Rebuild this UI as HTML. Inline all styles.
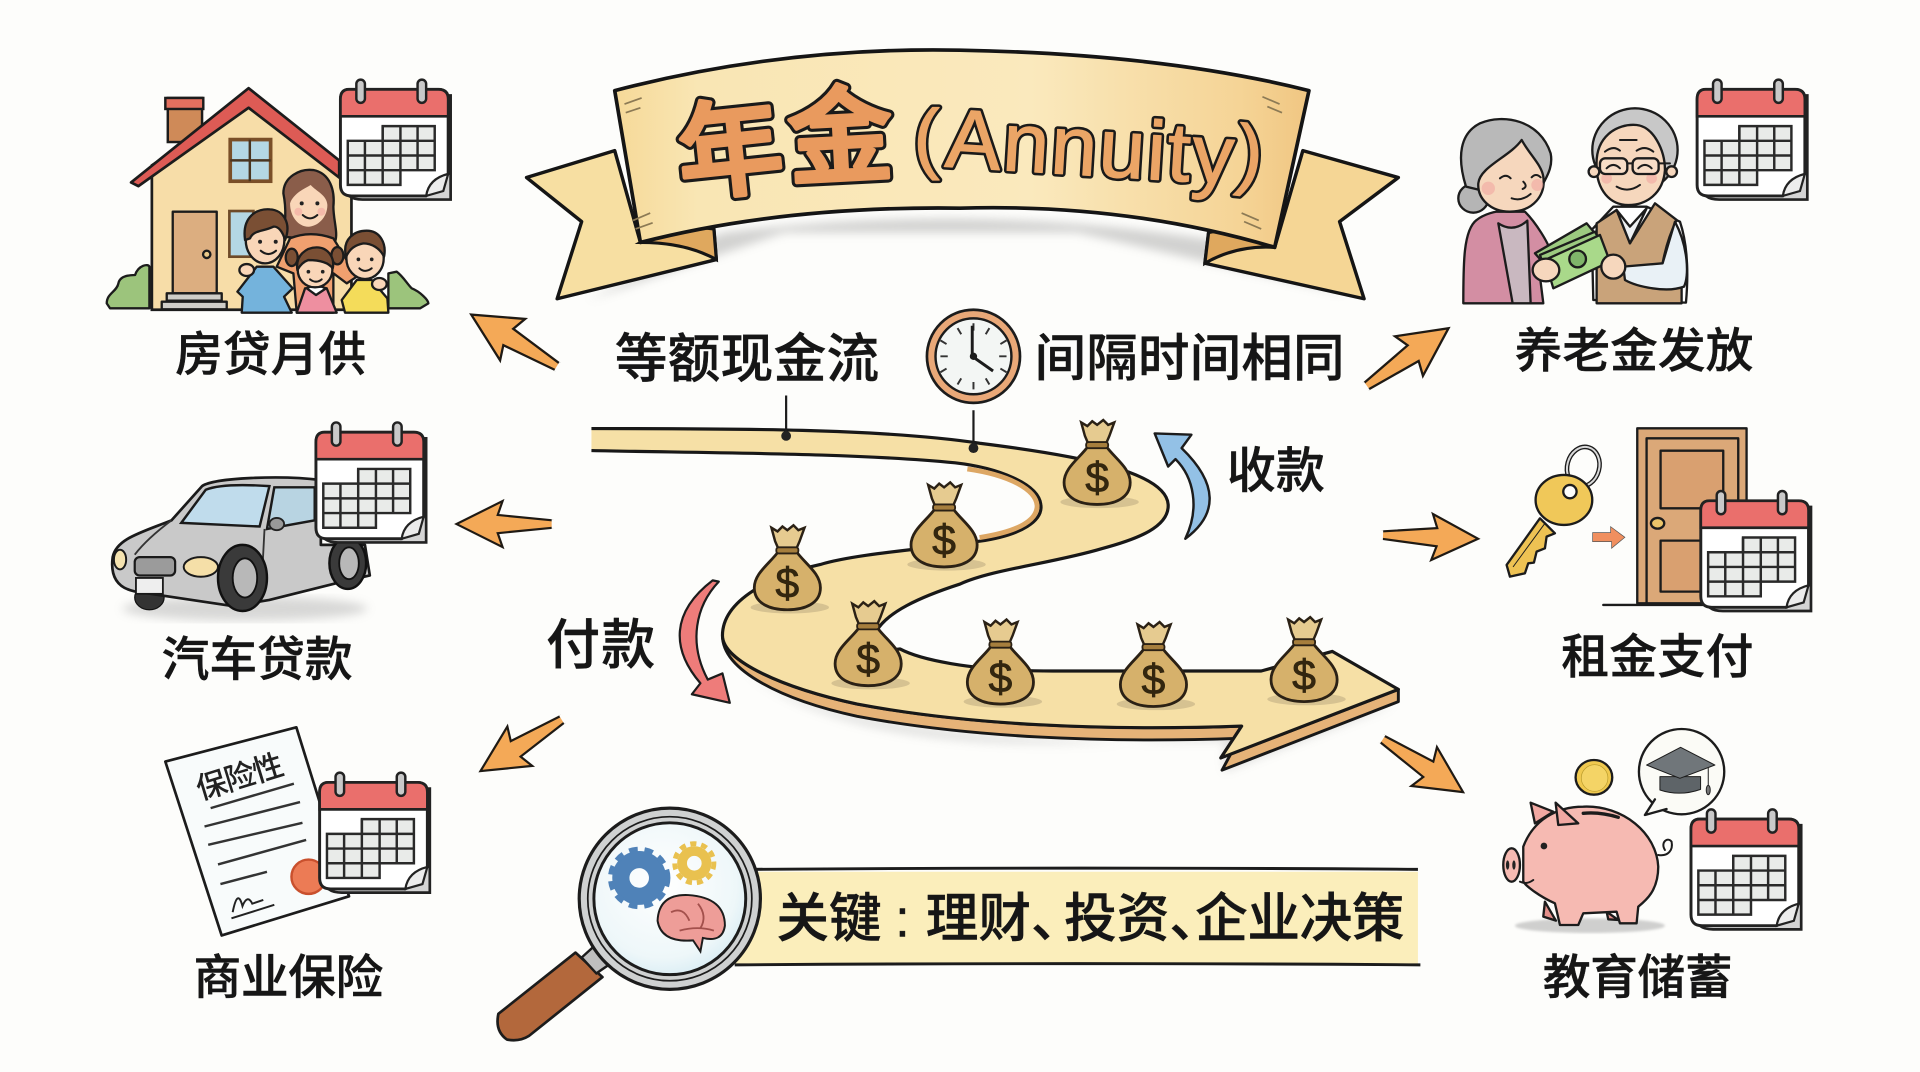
<!DOCTYPE html>
<html lang="zh"><head><meta charset="utf-8"><title>年金 (Annuity)</title>
<style>
html,body{margin:0;padding:0;background:#fdfdfb;width:1920px;height:1072px;overflow:hidden}
svg{display:block}
text{font-family:"Liberation Sans","Noto Sans CJK SC",sans-serif}
.l{font-weight:500;fill:#161616;stroke:#161616;stroke-width:.35}
.z{stroke:#1c1c1c;stroke-width:7;stroke-linejoin:round;stroke-linecap:round}
.n{fill:none;stroke:#1c1c1c;stroke-width:6;stroke-linecap:round;stroke-linejoin:round}
</style></head><body>
<svg width="1920" height="1072" viewBox="0 0 1568 875.5" xmlns="http://www.w3.org/2000/svg">
<defs>
<filter id="b"><feGaussianBlur stdDeviation="4"/></filter>
<linearGradient id="ban" x1="0" x2="1" y1="0" y2="0"><stop offset="0" stop-color="#f6d998"/><stop offset=".12" stop-color="#f9e6b4"/><stop offset=".6" stop-color="#fae9bd"/><stop offset=".9" stop-color="#f5d496"/><stop offset="1" stop-color="#f0c682"/></linearGradient>
<radialGradient id="lens" cx=".45" cy=".4" r=".7"><stop offset="0" stop-color="#ffffff"/><stop offset=".7" stop-color="#eef7f9"/><stop offset="1" stop-color="#cfe8f2"/></radialGradient>
<symbol id="cal" overflow="visible" viewBox="0 0 94 100" width="94" height="100">
<path d="M6,14 H92 V99 H20 Q6,99 6,88Z" fill="#d4d4d4" stroke="#222" stroke-width="2.2"/>
<path d="M9,9 H82 Q90,9 90,17 V78 L72,96 H11 Q2,96 2,87 V17 Q2,9 9,9Z" fill="#fff" stroke="#222" stroke-width="2.4"/>
<path d="M9,9 H82 Q90,9 90,17 V31 H2 V17 Q2,9 9,9Z" fill="#ea6f6c" stroke="#222" stroke-width="2.2"/>
<rect x="15" y="1" width="7" height="19" rx="3.5" fill="#c9c9c9" stroke="#222" stroke-width="2"/>
<rect x="65" y="1" width="7" height="19" rx="3.5" fill="#c9c9c9" stroke="#222" stroke-width="2"/>
<path d="M36.5,39 H79 V51 H36.5Z M8,51 H79 V63 H8Z M8,63 H79 V75 H8Z M8,75 H51 V87 H8Z" fill="#e9ebe9" stroke="#2a2a2a" stroke-width="2"/>
<path d="M22,51V87M36.5,39V87M51,39V75M65,39V75" stroke="#2a2a2a" stroke-width="2" fill="none"/>
<path d="M72,96 Q74,82 90,78 L86,92Z" fill="#ececec" stroke="#222" stroke-width="1.8"/>
</symbol>
<symbol id="bag" overflow="visible" viewBox="0 0 56 72" width="56" height="72">
<ellipse cx="30" cy="68" rx="32" ry="5" fill="#9b8a6a" opacity=".35"/>
<path d="M15,3 L20,6 L24,2 L28,5 L33,1 L37,5 L42,3 L38,14 L35,21 H21 L18,14Z" fill="#e6cb90" stroke="#2b2115" stroke-width="2"/>
<path d="M21,22 C14,32 1,40 1,52 C1,65 14,70 28,70 C42,70 55,65 55,52 C55,40 42,32 35,22Z" fill="#d6b16b" stroke="#2b2115" stroke-width="2.3"/>
<rect x="19" y="19" width="18" height="5" rx="2" fill="#a67e3d" stroke="#2b2115" stroke-width="1.5"/>
<text x="28" y="60" text-anchor="middle" font-size="35" font-weight="400" fill="#33260f" stroke="#33260f" stroke-width=".6">$</text>
</symbol>
<symbol id="arr" overflow="visible" viewBox="0 0 80 40" width="80" height="40">
<path d="M0,-3 L46,-7.5 L42,-19 L80,0 L42,19 L46,7.5 L0,3" fill="#f4a957" stroke="#1f1a14" stroke-width="1.8" stroke-linejoin="miter"/>
<path d="M0,-4 V4" stroke="#fdfdfb" stroke-width="3"/>
</symbol>
</defs>
<rect width="1568" height="876" fill="#fdfdfb"/>

<!-- banner -->
<path d="M590,190 Q790,165 985,195 L1100,240 L990,215 L880,190 L640,190 L480,245Z" fill="#8b8b8b" opacity=".38" filter="url(#b)"/>
<path d="M502,123 L430,145 L475,181 L455,244 L585,212 L583,187 L523,198Z" fill="#f7dfa2" stroke="#151515" stroke-width="2.8" stroke-linejoin="round"/>
<path d="M523,198 Q550,182 583,187 L585,212 Q560,198 523,198Z" fill="#dfa85e" stroke="#151515" stroke-width="2.6"/>
<path d="M1064,123 L1142,145 L1094,181 L1114,244 L984,215 L987,190 L1041,202Z" fill="#f5d695" stroke="#151515" stroke-width="2.8" stroke-linejoin="round"/>
<path d="M1041,202 Q1010,184 987,190 L984,215 Q1010,200 1041,202Z" fill="#dfa85e" stroke="#151515" stroke-width="2.6"/>
<path d="M502,74 Q640,38 784,41 Q950,44 1069,74 L1041,202 Q920,166 784,170 Q640,168 523,198Z" fill="url(#ban)" stroke="#151515" stroke-width="3" stroke-linejoin="round"/>
<path d="M510,85l14,-5M511,92l12,-4M517,180l14,-6M519,187l14,-5M1045,85l-14,-6M1047,92l-12,-5M1028,180l-14,-6M1030,187l-14,-6" stroke="#8c7a55" stroke-width="1.4"/>
<g font-weight="500" stroke-linejoin="round" stroke-linecap="round">
<g stroke="#1a1a1a" stroke-width="8.5" fill="#1a1a1a">
<text x="596" y="153" text-anchor="middle" font-size="86" transform="rotate(-6 596 120)">年</text>
<text x="686" y="142" text-anchor="middle" font-size="86" transform="rotate(-3 686 110)">金</text>
</g>
<g stroke="#e99a5e" stroke-width="3.4" fill="#e99a5e">
<text x="596" y="153" text-anchor="middle" font-size="86" transform="rotate(-6 596 120)">年</text>
<text x="686" y="142" text-anchor="middle" font-size="86" transform="rotate(-3 686 110)">金</text>
</g>
</g>
<g font-size="68" letter-spacing="1.5" stroke-linejoin="round" stroke-linecap="round">
<g stroke="#1a1a1a" stroke-width="5.2" fill="#1a1a1a">
<text x="746" y="134" font-size="64">(</text>
<text x="771" y="136" transform="rotate(3.5 771 136)">Annuity</text>
<text x="1008" y="146" font-size="64" transform="rotate(6 1008 146)">)</text>
</g>
<g stroke="#eba566" stroke-width="1" fill="#eba566">
<text x="746" y="134" font-size="64">(</text>
<text x="771" y="136" transform="rotate(3.5 771 136)">Annuity</text>
<text x="1008" y="146" font-size="64" transform="rotate(6 1008 146)">)</text>
</g>
</g>

<!-- road -->
<path d="M600,540 C640,580 760,610 1000,605 L1000,630 L1140,575 C900,625 680,620 600,540Z" fill="#999" opacity=".3" filter="url(#b)"/>
<path d="M590,519 C590,548 640,572 700,585 C790,602 900,607 1012,603 L998,629 L1142,573 V563 L997,619 L1014,593 C900,597 790,592 700,575 C640,562 590,540 590,519Z" fill="#e6b378" stroke="#181818" stroke-width="2.4" stroke-linejoin="round"/>
<path d="M483,350 C600,350 720,350 800,362 C880,372 952,385 954,412 C955,430 930,440 900,448 C860,460 810,465 784,477 C750,488 725,500 716,515 C712,525 725,532 735,530 C750,538 790,548 860,548 L1030,548 L1088,532 L1142,563 L997,619 L1014,593 C900,597 790,592 700,575 C640,562 590,540 590,519 C590,490 630,470 670,461 C700,452 760,448 800,442 C835,437 852,425 850,412 C848,395 815,382 780,378 C700,370 580,370 483,368" fill="#f6e0a6" stroke="#181818" stroke-width="2.6" stroke-linejoin="round"/>
<path d="M790,383 C825,388 846,400 847,413 C847,425 832,434 800,439" fill="none" stroke="#dda764" stroke-width="4"/>

<!-- bags -->
<use href="#bag" x="868" y="342"/><use href="#bag" x="743" y="393"/><use href="#bag" x="615" y="428"/>
<use href="#bag" x="681" y="490"/><use href="#bag" x="789" y="505"/><use href="#bag" x="914" y="507"/><use href="#bag" x="1037" y="503"/>

<!-- pins & clock -->
<path d="M642,323V355M795,335V366" stroke="#1c1c1c" stroke-width="1.8"/>
<circle cx="642" cy="356" r="4" fill="#222"/><circle cx="795" cy="366" r="4" fill="#222"/>
<circle cx="795" cy="291" r="38" fill="#e9a878" stroke="#1c1c1c" stroke-width="2.2"/>
<circle cx="795" cy="291" r="31" fill="#f3f6f4" stroke="#1c1c1c" stroke-width="2"/>
<path d="M795,264v6M795,312v6M768,291h6M816,291h6M808,268l-3,5M822,278l-5,3M822,304l-5,-3M808,314l-3,-5M782,314l3,-5M768,304l5,-3M768,278l5,3M782,268l3,5" stroke="#333" stroke-width="1.6"/>
<path d="M794,266V291L811,303" fill="none" stroke="#1c1c1c" stroke-width="2.4"/>
<circle cx="795" cy="291" r="3" fill="#1c1c1c"/>

<!-- labels -->
<text class="l" x="143" y="303" font-size="39" textLength="156">房贷月供</text>
<text class="l" x="1237" y="300" font-size="39" textLength="195">养老金发放</text>
<text class="l" x="502" y="308" font-size="43" textLength="216">等额现金流</text>
<text class="l" x="845" y="307" font-size="42" textLength="253">间隔时间相同</text>
<text class="l" x="1002" y="398" font-size="40" textLength="80">收款</text>
<text class="l" x="446" y="542" font-size="44" textLength="89">付款</text>
<text class="l" x="132" y="552" font-size="39" textLength="156">汽车贷款</text>
<text class="l" x="1275" y="550" font-size="39" textLength="157">租金支付</text>
<text class="l" x="158" y="812" font-size="39" textLength="155">商业保险</text>
<text class="l" x="1260" y="812" font-size="39" textLength="155">教育储蓄</text>

<!-- arrows -->
<use href="#arr" transform="translate(456,300) rotate(211.2) scale(1.04)"/>
<use href="#arr" transform="translate(452,428) rotate(180) scale(.99)"/>
<use href="#arr" transform="translate(460,587) rotate(147.7)"/>
<use href="#arr" transform="translate(1115,316) rotate(-35.2) scale(1.04)"/>
<use href="#arr" transform="translate(1128,437) rotate(2.2) scale(.99)"/>
<use href="#arr" transform="translate(1128,603) rotate(33.3)"/>
<path d="M968,440 C980,415 975,390 960,375 L954,381 L943,354 L973,355 L965,366 C995,395 995,420 968,440Z" fill="#93c1e6" stroke="#1c1c1c" stroke-width="2" stroke-linejoin="round"/>
<path d="M587,475 C568,495 562,525 578,555 L590,550 L596,574 L565,567 L572,558 C548,530 548,500 582,474Z" fill="#ee7c7a" stroke="#1c1c1c" stroke-width="1.8" stroke-linejoin="round"/>

<!-- house -->
<rect x="137" y="80" width="28" height="36" fill="#cf8a58" stroke="#1c1c1c" stroke-width="2"/><rect x="135" y="80" width="31" height="9" fill="#e4705f" stroke="#1c1c1c" stroke-width="2"/>
<path d="M124,253 V135 L203,82 L287,140 V253Z" fill="#f7dda8" stroke="#1c1c1c" stroke-width="2.2"/>
<path d="M107,149 L203,72 L277,131 V145 L203,88 L113,152Z" fill="#dd5b55" stroke="#1c1c1c" stroke-width="2.2" stroke-linejoin="round"/>
<rect x="188" y="114" width="33" height="34" fill="#b4d7e4" stroke="#7a4f28" stroke-width="3"/><path d="M204,114V148M188,131H221" stroke="#4a3520" stroke-width="2"/>
<g transform="translate(81.7,130.7) scale(.2722)">
<path d="M20,430 C20,400 50,395 55,370 C60,345 95,345 105,345 C115,315 145,310 148,320 V445 H30Z M865,340 L890,335 C910,350 920,370 935,385 C960,395 985,420 985,430 L960,445 H865Z" fill="#9cc47c" class="z"/>
<rect x="218" y="155" width="132" height="245" fill="#dcae80" class="z"/><circle cx="320" cy="283" r="11" fill="#e9c98a" class="z"/>
<rect x="200" y="400" width="165" height="22" fill="#cfcdc8" class="z"/><rect x="185" y="425" width="195" height="23" fill="#cfcdc8" class="z"/>
<rect x="388" y="153" width="72" height="137" fill="#b4d7e4" stroke="#6e4a28" stroke-width="8"/>
<path d="M550,100 C550,50 600,25 640,30 C690,40 705,90 700,140 C700,180 715,220 705,245 L550,230 C555,190 560,150 550,100Z" fill="#8a5d4a" class="z"/>
<path d="M570,130 C580,100 615,85 632,75 C650,95 680,105 682,135 C682,175 650,200 625,200 C595,200 570,170 570,130Z" fill="#f9d6b8"/>
<circle cx="605" cy="130" r="6" fill="#222"/><circle cx="652" cy="130" r="6" fill="#222"/><path d="M608,165 Q630,185 652,165" class="n"/>
<circle cx="595" cy="155" r="12" fill="#f2a7a0" opacity=".6"/><circle cx="664" cy="155" r="12" fill="#f2a7a0" opacity=".6"/>
<path d="M570,235 Q630,210 700,235 L770,350 L740,370 L700,340 L700,458 H590 L580,340 L530,320Z" fill="#f0a06f" class="z"/>
<path d="M590,458 L615,385 H680 L710,458Z" fill="#ee8fa0" class="z"/><path d="M620,385 L648,405 L678,385 L665,380 H630Z" fill="#fff" class="z"/>
<path d="M412,395 L470,320 H520 L578,385 L552,410 L575,458 H425 L428,410Z" fill="#74b3dc" class="z"/>
<path d="M725,420 L770,360 H815 L862,415 L865,458 H735Z" fill="#f4dc5a" class="z"/>
<ellipse cx="440" cy="330" rx="22" ry="18" fill="#f9d6b8" class="z"/><ellipse cx="838" cy="372" rx="22" ry="18" fill="#f9d6b8" class="z"/>
<ellipse cx="575" cy="292" rx="18" ry="26" fill="#7a4f34" class="z"/><ellipse cx="712" cy="287" rx="18" ry="26" fill="#7a4f34" class="z"/>
<ellipse cx="495" cy="240" rx="58" ry="70" fill="#f9d6b8" class="z"/>
<path d="M435,240 C425,170 470,145 510,148 C550,150 575,190 555,240 C548,215 535,198 520,200 C490,215 460,210 450,235Z" fill="#7a4f34" class="z"/>
<circle cx="480" cy="245" r="6" fill="#222"/><circle cx="527" cy="245" r="6" fill="#222"/><path d="M482,272 Q505,292 528,272" class="n"/>
<ellipse cx="645" cy="330" rx="52" ry="52" fill="#f9d6b8" class="z"/>
<path d="M592,330 C585,285 620,262 650,262 C685,262 705,295 698,325 C680,300 640,300 625,300 C610,305 600,315 592,330Z" fill="#7a4f34" class="z"/>
<circle cx="625" cy="335" r="5.5" fill="#222"/><circle cx="668" cy="335" r="5.5" fill="#222"/><path d="M630,358 Q648,372 665,358" class="n"/>
<ellipse cx="795" cy="295" rx="56" ry="62" fill="#f9d6b8" class="z"/>
<path d="M738,290 C725,235 765,212 800,212 C840,212 860,250 852,290 C840,265 815,250 790,250 C765,255 750,265 738,290Z" fill="#7a4f34" class="z"/>
<circle cx="775" cy="298" r="5.5" fill="#222"/><circle cx="815" cy="298" r="5.5" fill="#222"/><path d="M778,325 Q795,340 815,325" class="n"/>
</g>
<use href="#cal" x="276" y="64"/>

<!-- car -->
<ellipse cx="200" cy="497" rx="100" ry="10" fill="#aaa" opacity=".45" filter="url(#b)"/>
<ellipse cx="122" cy="488" rx="12" ry="10" fill="#333" stroke="#111"/>
<path d="M92,455 C95,440 115,435 140,425 L165,397 C175,390 230,388 262,392 L262,445 L298,445 L302,470 L280,475 L220,490 L190,495 L110,483 C95,480 90,470 92,455Z" fill="#c9c9c9" stroke="#1a1a1a" stroke-width="2.2" stroke-linejoin="round"/>
<path d="M148,427 L168,400 C180,395 205,396 220,397 L212,430Z" fill="#c0dcec" stroke="#1a1a1a" stroke-width="2"/>
<path d="M224,398 L257,398 V425 L218,432Z" fill="#b8d4e2" stroke="#1a1a1a" stroke-width="2"/>
<path d="M216,432 L214,470M140,425 Q120,440 110,453" fill="none" stroke="#333" stroke-width="1.5"/>
<ellipse cx="226" cy="428" rx="6" ry="5" fill="#999" stroke="#222" stroke-width="1.5"/>
<rect x="110" y="455" width="33" height="15" rx="4" fill="#9b9b9b" stroke="#1a1a1a" stroke-width="1.8"/>
<ellipse cx="98" cy="457" rx="5" ry="8" fill="#f5e3b0" stroke="#1a1a1a" stroke-width="1.6"/>
<ellipse cx="164" cy="463" rx="14" ry="8" fill="#f5dfa8" stroke="#1a1a1a" stroke-width="1.6"/>
<rect x="111" y="472" width="22" height="13" fill="#eee" stroke="#1a1a1a" stroke-width="1.5"/>
<ellipse cx="198" cy="472" rx="20" ry="27" fill="#3a3a3a" stroke="#111" stroke-width="2"/><ellipse cx="200" cy="472" rx="10" ry="16" fill="#b8b8b8" stroke="#111" stroke-width="1.5"/>
<ellipse cx="284" cy="460" rx="15" ry="21" fill="#3a3a3a" stroke="#111" stroke-width="2"/><ellipse cx="285" cy="460" rx="8" ry="13" fill="#b8b8b8" stroke="#111" stroke-width="1.5"/>
<use href="#cal" x="256" y="344"/>

<!-- insurance -->
<path d="M135,622 L242,594 L285,732 L181,764Z" fill="#f8fbfb" stroke="#1c1c1c" stroke-width="2.2" stroke-linejoin="round"/>
<text x="196" y="643" text-anchor="middle" font-size="25" font-weight="500" fill="#222" transform="rotate(-17 196 635)" textLength="73">保险性</text>
<path d="M172,660L240,640M167,675L245,655M170,690L247,672M178,706L250,686M180,722L218,712" stroke="#333" stroke-width="2"/>
<path d="M190,745 Q194,725 198,740 Q202,730 206,738 L215,735M189,750L224,739" fill="none" stroke="#222" stroke-width="1.6"/>
<circle cx="252" cy="716" r="14" fill="#ec7b55" stroke="#c9502d" stroke-width="2"/>
<use href="#cal" x="259" y="630"/>

<!-- magnifier & key bar -->
<path d="M610,712 H1158 V788 H600Z" fill="#fbeebb"/>
<path d="M615,710 Q880,708 1158,710M600,788 Q880,786 1160,788" stroke="#1c1c1c" stroke-width="2.4" fill="none"/>
<path d="M470,778 L407,828 Q404,842 414,849 Q424,851 432,846 L492,798Z" fill="#b3683c" stroke="#1c1c1c" stroke-width="2.2" stroke-linejoin="round"/>
<path d="M486,772 L475,782 L487,795 L500,786Z" fill="#bfbfbf" stroke="#1c1c1c" stroke-width="2"/>
<circle cx="547" cy="734" r="74" fill="#cfd1d1" stroke="#1c1c1c" stroke-width="2.6"/>
<circle cx="547" cy="734" r="67" fill="none" stroke="#1c1c1c" stroke-width="1.4"/>
<circle cx="547" cy="734" r="62" fill="url(#lens)" stroke="#1c1c1c" stroke-width="2.4"/>
<circle cx="522" cy="717" r="15" fill="none" stroke="#4f82b8" stroke-width="14"/>
<circle cx="522" cy="717" r="23" fill="none" stroke="#4f82b8" stroke-width="5" stroke-dasharray="7 5.5"/>
<circle cx="567" cy="705" r="10" fill="none" stroke="#e9c14f" stroke-width="8"/>
<circle cx="567" cy="705" r="16" fill="none" stroke="#e9c14f" stroke-width="4" stroke-dasharray="5 4"/>
<path d="M537,752 Q538,730 562,731 Q592,733 592,756 Q590,770 574,766 L572,777 L566,768 Q540,770 537,752Z" fill="#ee9d98" stroke="#1c1c1c" stroke-width="1.6"/>
<path d="M548,745 Q558,740 563,752M570,738 Q578,748 572,758M555,760 Q570,756 583,760" stroke="#a3504c" stroke-width="1.5" fill="none"/>
<text class="l" font-size="43" x="634" y="765" textLength="86">关键</text>
<text class="l" font-size="43" x="731" y="765" font-weight="700">:</text>
<text class="l" font-size="43" x="756" y="765">理财、</text>
<text class="l" font-size="43" x="869" y="765">投资、</text>
<text class="l" font-size="43" x="976" y="765" textLength="171">企业决策</text>

<!-- elderly -->
<g transform="translate(1176,73.5) scale(.2722)">
<ellipse cx="100" cy="325" rx="45" ry="43" fill="#b5b5b5" class="z"/>
<path d="M70,640 C70,520 70,420 110,390 C135,370 170,365 170,365 L255,365 C290,400 325,460 330,480 L300,560 L310,640Z" fill="#d38ea3" class="z"/>
<path d="M175,400 Q220,430 262,392 L272,640 H218Z" fill="#c9b8c0" class="z"/>
<path d="M78,290 C50,200 60,130 120,100 C190,70 300,90 332,190 C340,230 320,260 310,280 L120,300Z" fill="#b9b9b9" class="z"/>
<path d="M115,280 C120,230 210,200 245,150 C270,195 305,225 310,260 C318,315 280,365 210,365 C150,365 112,325 115,280Z" fill="#f6d7bd" class="z"/>
<circle cx="145" cy="295" r="20" fill="#f2a7a0" opacity=".6"/><circle cx="292" cy="285" r="18" fill="#f2a7a0" opacity=".6"/>
<path d="M180,265 Q198,250 212,265M275,262 Q288,248 302,262M215,325 Q245,335 272,312M250,275 Q265,290 248,297" class="n"/>
<path d="M460,630 L455,420 L520,350 H620 L720,395 C745,470 745,560 738,638Z" fill="#fff" class="z"/>
<path d="M470,640 V400 L530,360 L570,460 L645,340 L710,390 C680,450 670,510 668,520 L725,590 V640Z" fill="#c9a37a" class="z"/>
<path d="M530,360 L570,410 L620,355 L570,460Z" fill="#eef1f3" class="z"/>
<path d="M550,530 L668,520 L705,395 C745,470 748,560 732,590 C680,610 590,590 555,570Z" fill="#e9f1f6" class="z"/>
<ellipse cx="585" cy="180" rx="128" ry="125" fill="#c8c8c8" class="z"/>
<path d="M470,230 C465,140 530,100 590,105 C640,110 675,180 675,240 C670,310 620,345 565,345 C510,345 470,300 470,230Z" fill="#f6d7bd" class="z"/>
<circle cx="462" cy="245" r="16" fill="#f6d7bd" class="z"/><circle cx="695" cy="245" r="16" fill="#f6d7bd" class="z"/>
<circle cx="500" cy="265" r="16" fill="#f2a7a0" opacity=".6"/><circle cx="635" cy="265" r="16" fill="#f2a7a0" opacity=".6"/>
<rect x="480" y="205" width="82" height="47" rx="16" fill="#f9e7d8" fill-opacity=".4" class="z"/><rect x="578" y="205" width="78" height="47" rx="16" fill="#f9e7d8" fill-opacity=".4" class="z"/>
<path d="M562,220 H578M656,220 H690M495,185 Q520,165 540,182M590,182 Q615,165 640,185M500,235 Q520,215 540,235M595,235 Q615,215 635,235M530,290 Q565,310 600,285M540,150 H590" class="n"/>
<path d="M285,490 L440,400 L465,430 L320,530Z" fill="#9cca80" class="z"/>
<path d="M300,495 L465,425 L490,470 L325,565Z" fill="#9cca80" class="z"/>
<path d="M315,510 L480,435 L510,515 L340,595Z" fill="#a9d98a" class="z"/>
<circle cx="413" cy="507" r="25" fill="#7fb46a" class="z"/>
<ellipse cx="318" cy="540" rx="40" ry="34" fill="#f6d7bd" class="z"/>
<ellipse cx="520" cy="530" rx="36" ry="36" fill="#f6d7bd" class="z"/>
</g>
<use href="#cal" x="1384" y="64"/>

<!-- key + door -->
<g transform="translate(1216.8,343) scale(.2722)">
<rect x="442" y="25" width="328" height="525" fill="#dba878" class="z"/>
<path d="M470,550 V55 H745 V400" fill="none" class="z"/>
<rect x="512" y="92" width="188" height="173" fill="#d9a070" class="z"/>
<rect x="512" y="362" width="150" height="153" fill="#d9a070" class="z"/>
<ellipse cx="503" cy="310" rx="20" ry="16" fill="#ecc56a" class="z"/>
<path d="M340,555 H640" class="z" fill="none"/>
<ellipse cx="280" cy="140" rx="48" ry="60" transform="rotate(15 280 140)" fill="none" stroke="#1c1c1c" stroke-width="14"/>
<ellipse cx="280" cy="140" rx="48" ry="60" transform="rotate(15 280 140)" fill="none" stroke="#d9d9d9" stroke-width="6"/>
<path d="M150,295 L50,435 L60,470 L105,460 L115,430 L132,428 L140,395 L165,385 L170,350 L195,340Z" fill="#eec253" class="z"/>
<path d="M70,440 L165,310" class="n" style="stroke-width:3"/>
<ellipse cx="222" cy="240" rx="85" ry="75" fill="#f0c859" class="z"/>
<circle cx="240" cy="215" r="20" fill="#fdfdfb" class="z"/>
<path d="M308,338 H362 V320 L405,352 L365,385 V365 H308Z" fill="#f08f5f" stroke="#555" stroke-width="2"/>
</g>
<use href="#cal" x="1387" y="400"/>

<!-- piggy -->
<g transform="translate(1216.8,620.7) scale(.2722)">
<ellipse cx="300" cy="497" rx="225" ry="22" fill="#aaa" opacity=".55" filter="url(#b)"/>
<circle cx="575" cy="35" r="128" fill="#fbfbf6" class="z"/>
<path d="M495,118 L465,165 L530,147" fill="#fbfbf6" class="z"/>
<path d="M510,50 V90 Q570,110 632,88 V50Z" fill="#5e6468" class="z" style="stroke-width:3"/>
<path d="M470,15 L572,-38 L675,15 L570,55Z" fill="#70767a" class="z" style="stroke-width:3"/>
<path d="M655,25 V80" class="n" style="stroke-width:3"/><ellipse cx="655" cy="90" rx="6" ry="14" fill="#777" stroke="#222" stroke-width="3"/>
<ellipse cx="312" cy="52" rx="55" ry="52" fill="#f0c94f" class="z"/><ellipse cx="314" cy="54" rx="40" ry="40" fill="#f4d466" stroke="#b89a2a" stroke-width="2"/>
<path d="M165,425 L160,470 L198,482 Z M350,455 L355,478 L385,480Z" fill="#e48f8a" class="z"/>
<path d="M505,285 C535,290 550,270 545,245 C535,230 510,245 525,270" class="n"/>
<path d="M135,190 L122,128 L190,155Z" fill="#f1a8a2" class="z"/>
<path d="M100,260 C130,180 200,140 280,140 C400,135 500,220 505,320 C505,390 470,420 445,440 L440,490 L390,490 L380,455 L280,460 L265,495 L210,495 L195,430 C150,410 110,380 100,365Z" fill="#f6bab2" class="z"/>
<path d="M205,195 L197,128 L265,190Z" fill="#f1a8a2" class="z"/>
<ellipse cx="65" cy="315" rx="25" ry="50" fill="#f6bab2" class="z"/>
<ellipse cx="53" cy="315" rx="5" ry="14" fill="#222"/><ellipse cx="72" cy="315" rx="5" ry="14" fill="#222"/>
<circle cx="162" cy="258" r="10" fill="#222"/>
<path d="M90,365 Q110,375 130,360" class="n"/>
<path d="M280,160 Q330,155 385,172" class="n" style="stroke-width:10"/>
</g>
<use href="#cal" x="1379" y="660"/>
</svg>
</body></html>
